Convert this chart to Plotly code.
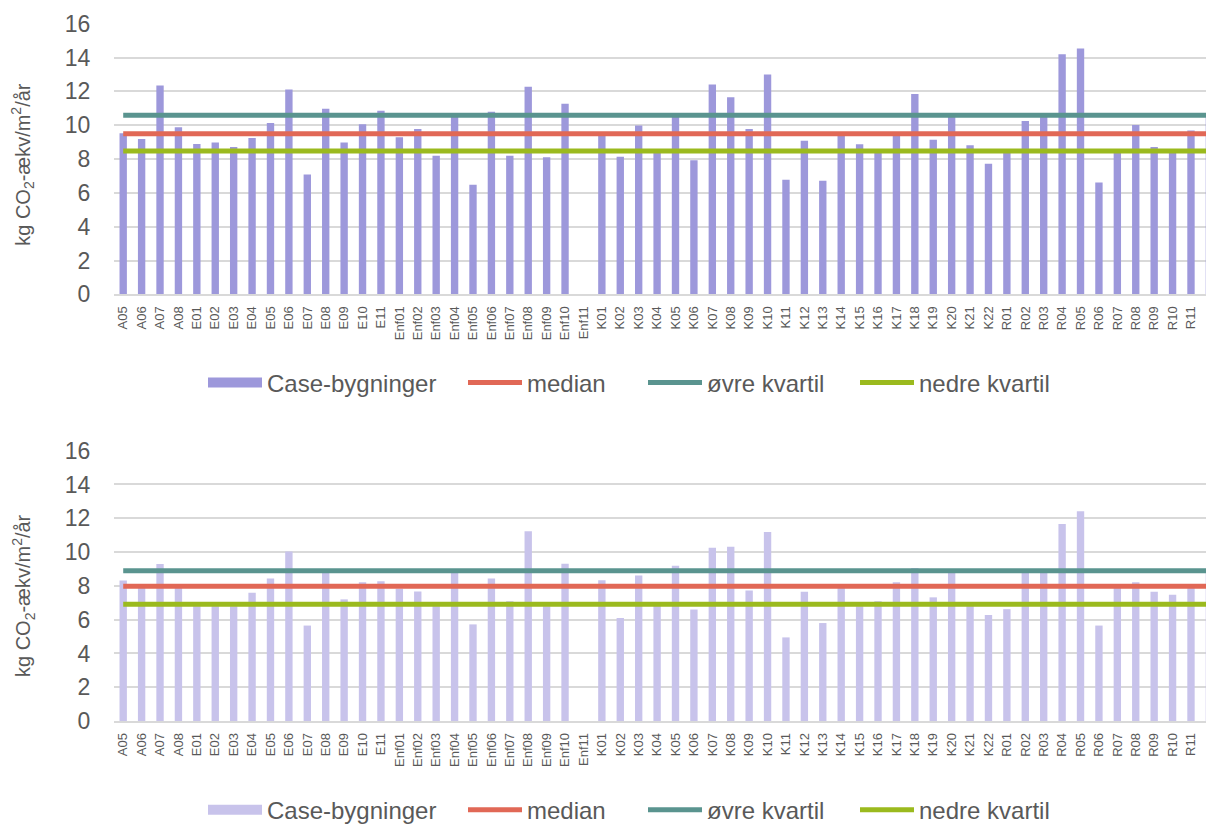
import plotly.graph_objects as go

W, H = 1206, 833

categories = (
    ["A05", "A06", "A07", "A08"]
    + ["E01", "E02", "E03", "E04", "E05", "E06", "E07", "E08", "E09", "E10", "E11"]
    + ["Enf01", "Enf02", "Enf03", "Enf04", "Enf05", "Enf06", "Enf07", "Enf08", "Enf09", "Enf10", "Enf11"]
    + ["K01", "K02", "K03", "K04", "K05", "K06", "K07", "K08", "K09", "K10", "K11",
       "K12", "K13", "K14", "K15", "K16", "K17", "K18", "K19", "K20", "K21", "K22"]
    + ["R01", "R02", "R03", "R04", "R05", "R06", "R07", "R08", "R09", "R10", "R11", "R12"]
)

values_top = [
    9.53, 9.18, 12.35, 9.88,
    8.89, 8.98, 8.71, 9.24, 10.13, 12.11, 7.09, 10.97, 8.98, 10.05, 10.85,
    9.28, 9.78, 8.19, 10.48, 6.48, 10.79, 8.20, 12.27, 8.11, 11.26, 0.0,
    9.40, 8.13, 9.98, 8.40, 10.60, 7.93, 12.40, 11.65, 9.78, 12.99, 6.77,
    9.08, 6.71, 9.40, 8.87, 8.40, 9.37, 11.84, 9.14, 10.48, 8.81, 7.72,
    8.40, 10.25, 10.50, 14.19, 14.54, 6.61, 8.40, 10.01, 8.71, 8.40, 9.68, 10.50,
]

values_bottom = [
    8.32, 7.88, 9.29, 7.88,
    6.80, 6.80, 6.80, 7.59, 8.43, 10.04, 5.65, 8.85, 7.20, 8.22, 8.27,
    7.83, 7.67, 6.80, 8.85, 5.72, 8.43, 7.09, 11.23, 6.80, 9.31, 0.0,
    8.33, 6.10, 8.62, 6.85, 9.19, 6.60, 10.26, 10.32, 7.73, 11.19, 4.95,
    7.65, 5.80, 7.88, 6.80, 7.09, 8.22, 9.05, 7.32, 8.78, 6.80, 6.27,
    6.62, 8.78, 8.78, 11.66, 12.42, 5.65, 7.88, 8.22, 7.65, 7.47, 7.88, 8.80,
]

median_top, upper_q_top, lower_q_top = 9.49, 10.58, 8.48
median_bottom, upper_q_bottom, lower_q_bottom = 7.98, 8.90, 6.91

y_ticks = [0, 2, 4, 6, 8, 10, 12, 14, 16]
series_names = ["Case-bygninger", "median", "øvre kvartil", "nedre kvartil"]

bar_top_color = "#9D98DB"
bar_bottom_color = "#C8C3EB"
red = "#E16856"
teal = "#5A948F"
green = "#9BBA1E"
text_color = "#595959"
grid_color = "#D9D9D9"
font_family = "Liberation Sans, Arial, sans-serif"

n = len(categories)

fig = go.Figure()


def add_panel(values, med, upq, loq, bar_color, xa, ya, legends):
    # bars (legend entry drawn by a legend-only swatch below, as a wide rectangle)
    fig.add_trace(go.Bar(x=categories, y=values, name=series_names[0],
                         marker=dict(color=bar_color, line=dict(width=0)),
                         xaxis=xa, yaxis=ya, showlegend=False))
    fig.add_trace(go.Scatter(x=[None], y=[None], name=series_names[0], mode="lines",
                             line=dict(color=bar_color, width=12), xaxis=xa, yaxis=ya,
                             legend=legends[0], hoverinfo="skip"))
    for name, val, col, lg in zip(series_names[1:], [med, upq, loq], [red, teal, green], legends[1:]):
        fig.add_trace(go.Scatter(x=categories, y=[val] * n, name=name, mode="lines",
                                 line=dict(color=col, width=5), xaxis=xa, yaxis=ya, legend=lg))


top_legends = ["legend", "legend2", "legend3", "legend4"]
bot_legends = ["legend5", "legend6", "legend7", "legend8"]
add_panel(values_top, median_top, upper_q_top, lower_q_top, bar_top_color, "x", "y", top_legends)
add_panel(values_bottom, median_bottom, upper_q_bottom, lower_q_bottom, bar_bottom_color, "x2", "y2", bot_legends)

x_left = 114 / W
cat_px = 18.41
x_max = -0.5 + (W - 114) / cat_px

xaxis_common = dict(
    type="category", range=[-0.5, x_max], domain=[x_left, 1.0],
    tickangle=-90, tickfont=dict(size=13, color=text_color, family=font_family),
    showgrid=False, showline=True, linecolor=grid_color, linewidth=1.5,
    ticks="outside", ticklen=5, tickcolor="rgba(0,0,0,0)",
    automargin=False, fixedrange=True,
)
yaxis_common = dict(
    range=[0, 16], tickvals=y_ticks, ticktext=[str(v) for v in y_ticks],
    tickfont=dict(size=23, color=text_color, family=font_family),
    showgrid=True, gridcolor=grid_color, gridwidth=1.5, zeroline=False,
    showline=False, ticks="outside", ticklen=18, tickcolor="rgba(0,0,0,0)",
    automargin=False, fixedrange=True,
)

top_dom = [1 - 298.3 / H, 1 - 24 / H]
bot_dom = [1 - 730.7 / H, 1 - 456.7 / H]

legend_x_px = [203, 463, 643, 855]


def legend_cfg(xpx, ypx):
    return dict(
        orientation="h", xanchor="left", x=xpx / W, yanchor="middle", y=1 - ypx / H,
        font=dict(size=24, color=text_color, family=font_family),
        bgcolor="rgba(0,0,0,0)", borderwidth=0, itemwidth=54,
    )


legend_layout = {}
for lg, xpx in zip(top_legends, legend_x_px):
    legend_layout[lg] = legend_cfg(xpx, 388)
for lg, xpx in zip(bot_legends, legend_x_px):
    legend_layout[lg] = legend_cfg(xpx, 821)

ytitle = "kg CO<sub>2</sub>-ækv/m<sup>2</sup>/år"

fig.update_layout(
    width=W, height=H,
    margin=dict(l=0, r=0, t=0, b=0, pad=0),
    paper_bgcolor="white", plot_bgcolor="white",
    font=dict(family=font_family, color=text_color),
    bargap=0.6,
    showlegend=True,
    xaxis=dict(**xaxis_common, anchor="y"),
    yaxis=dict(**yaxis_common, domain=top_dom, anchor="x"),
    xaxis2=dict(**xaxis_common, anchor="y2"),
    yaxis2=dict(**yaxis_common, domain=bot_dom, anchor="x2"),
    annotations=[
        dict(text=ytitle, textangle=-90, xref="paper", yref="paper",
             x=23 / W, y=1 - 167 / H, xanchor="center", yanchor="middle",
             showarrow=False, font=dict(size=20, color=text_color, family=font_family)),
        dict(text=ytitle, textangle=-90, xref="paper", yref="paper",
             x=23 / W, y=1 - 604 / H, xanchor="center", yanchor="middle",
             showarrow=False, font=dict(size=20, color=text_color, family=font_family)),
    ],
    **legend_layout,
)

fig.write_html(
    "out.html",
    config={"displayModeBar": False},
    post_script="document.body.style.margin='0';document.body.style.overflow='hidden';",
)
